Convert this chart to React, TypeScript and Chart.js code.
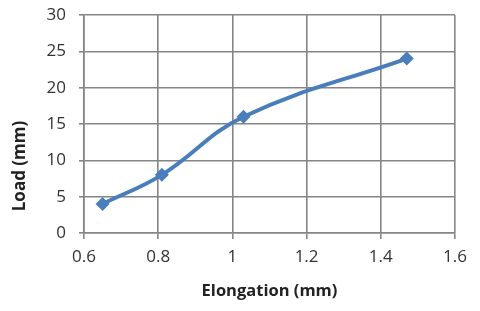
import React, { useEffect, useRef } from "react";
import { Chart, registerables } from "chart.js";

Chart.register(...registerables);

const elongation = [0.65, 0.81, 1.03, 1.47];
const load = [4, 8, 16, 24];
const xTickLabels = ["0.6", "0.8", "1", "1.2", "1.4", "1.6"];
const yTickLabels = ["0", "5", "10", "15", "20", "25", "30"];
const xTitle = "Elongation (mm)";
const yTitle = "Load (mm)";

const FONT = "'Open Sans', 'DejaVu Sans', sans-serif";

const yTitlePlugin = {
  id: "yTitlePlugin",
  afterDraw(chart: any) {
    const ctx = chart.ctx;
    ctx.save();
    ctx.translate(20, 166);
    ctx.rotate(-Math.PI / 2);
    ctx.font = `bold 17px ${FONT}`;
    ctx.fillStyle = "#222222";
    ctx.textAlign = "center";
    ctx.textBaseline = "middle";
    ctx.fillText(yTitle, 0, 0);
    ctx.restore();
  },
};

export default function App() {
  const ref = useRef<HTMLCanvasElement | null>(null);
  useEffect(() => {
    if (!ref.current) return;
    const chart = new Chart(ref.current, {
      type: "scatter",
      data: {
        datasets: [
          {
            data: elongation.map((x, i) => ({ x, y: load[i] })),
            showLine: true,
            borderColor: "#4a7ebb",
            backgroundColor: "#4a7ebb",
            borderWidth: 4,
            tension: 0.4,
            pointStyle: "rectRot",
            pointRadius: 7,
            pointBorderWidth: 0,
          },
        ],
      },
      plugins: [yTitlePlugin],
      options: {
        animation: false,
        responsive: false,
        layout: { padding: { top: 15, right: 25, left: 0, bottom: 0 } },
        plugins: { legend: { display: false }, tooltip: { enabled: false } },
        scales: {
          x: {
            type: "linear",
            min: 0.6,
            max: 1.6,
            ticks: {
              stepSize: 0.2,
              padding: 8,
              color: "#333333",
              font: { family: FONT, size: 17 },
              callback: (_v: any, i: number) => xTickLabels[i],
            },
            grid: { color: "#858585", lineWidth: 1.6, tickLength: 6 },
            border: { color: "#858585", width: 1.6 },
            title: {
              display: true,
              text: xTitle,
              color: "#222222",
              font: { family: FONT, size: 16.5, weight: "bold" },
              padding: { top: 0, bottom: 10 },
            },
            afterFit: (s: any) => {
              s.height = 78;
              s.paddingLeft = 0;
              s.paddingRight = 0;
            },
          },
          y: {
            type: "linear",
            min: 0,
            max: 30,
            ticks: {
              stepSize: 5,
              padding: 13,
              color: "#333333",
              font: { family: FONT, size: 17 },
              callback: (_v: any, i: number) => yTickLabels[i],
            },
            grid: { color: "#858585", lineWidth: 1.6, tickLength: 5 },
            border: { color: "#858585", width: 1.6 },
            afterFit: (s: any) => {
              s.width = 84;
              s.paddingTop = 0;
              s.paddingBottom = 0;
            },
          },
        },
      },
    } as any);
    return () => chart.destroy();
  }, []);
  return (
    <div style={{ position: "absolute", left: 0, top: 0, width: 480, height: 311, background: "#fff" }}>
      <canvas ref={ref} width={480} height={311} />
    </div>
  );
}
